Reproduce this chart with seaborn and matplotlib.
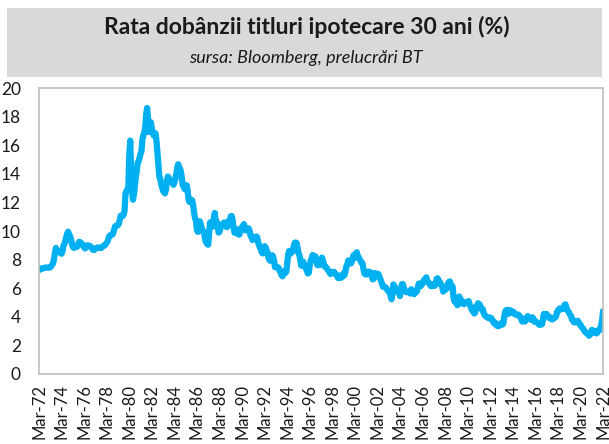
import pandas as pd
import seaborn as sns
import matplotlib.pyplot as plt
from matplotlib.patches import Rectangle

# --- Data: 30y mortgage rate (%), monthly, Mar-1972 .. Mar-2022 ---
rates_1970s = [
    7.29, 7.29, 7.37, 7.37, 7.40, 7.40, 7.43, 7.45, 7.44, 7.44,            # 1972 (Mar-Dec)
    7.44, 7.44, 7.46, 7.54, 7.65, 7.73, 8.05, 8.50, 8.82, 8.58, 8.58, 8.54,  # 1973
    8.54, 8.46, 8.41, 8.58, 8.97, 9.09, 9.28, 9.59, 9.81, 9.95, 9.79, 9.62,  # 1974
    9.43, 9.10, 8.89, 8.82, 8.91, 8.89, 8.87, 8.94, 9.16, 9.25, 9.21, 9.14,  # 1975
    9.07, 8.96, 8.86, 8.78, 8.84, 8.99, 9.00, 8.98, 8.95, 8.92, 8.82, 8.71,  # 1976
    8.67, 8.69, 8.76, 8.81, 8.85, 8.84, 8.82, 8.82, 8.80, 8.89, 8.94, 8.96,  # 1977
    9.00, 9.09, 9.16, 9.27, 9.51, 9.67, 9.70, 9.73, 9.75, 9.87, 10.12, 10.33,  # 1978
    10.37, 10.38, 10.41, 10.53, 10.81, 11.07, 11.07, 11.04, 11.14, 11.41, 12.62, 12.80,  # 1979
]
rates_1980s = [
    12.90, 13.04, 15.28, 16.32, 14.26, 12.71, 12.19, 12.56, 13.20, 13.79, 14.21, 14.79,
    14.90, 15.13, 15.40, 15.58, 16.40, 16.70, 16.83, 17.29, 18.16, 18.60, 17.83, 16.92,
    17.40, 17.60, 17.16, 16.89, 16.68, 16.70, 16.82, 16.27, 15.43, 14.61, 13.83, 13.62,
    13.25, 13.04, 12.80, 12.78, 12.63, 12.87, 13.42, 13.81, 13.73, 13.54, 13.44, 13.42,
    13.37, 13.23, 13.39, 13.65, 13.94, 14.42, 14.67, 14.47, 14.35, 14.13, 13.64, 13.18,
    13.08, 12.92, 13.17, 13.20, 12.91, 12.22, 12.03, 12.19, 12.19, 12.14, 11.78, 11.26,
    10.88, 10.71, 10.08, 9.94, 10.14, 10.68, 10.51, 10.20, 10.01, 9.98, 9.70, 9.32,
    9.20, 9.08, 9.04, 9.83, 10.60, 10.54, 10.28, 10.33, 10.89, 11.26, 10.65, 10.64,
    10.38, 9.89, 9.93, 10.20, 10.46, 10.46, 10.43, 10.60, 10.48, 10.30, 10.27, 10.61,
    10.73, 10.65, 11.03, 11.05, 10.77, 10.20, 9.88, 9.99, 10.13, 9.95, 9.77, 9.74,
]
rates_1990s = [
    9.90, 10.20, 10.27, 10.37, 10.48, 10.16, 10.04, 10.10, 10.18, 10.18, 10.01, 9.67,
    9.64, 9.37, 9.50, 9.49, 9.47, 9.62, 9.58, 9.24, 9.01, 8.86, 8.71, 8.50,
    8.43, 8.76, 8.94, 8.85, 8.67, 8.51, 8.13, 7.98, 7.92, 8.09, 8.31, 8.22,
    7.91, 7.47, 7.47, 7.46, 7.47, 7.42, 7.21, 7.11, 6.92, 6.83, 7.16, 7.17,
    7.06, 7.15, 7.68, 8.32, 8.60, 8.40, 8.61, 8.51, 8.64, 8.93, 9.17, 9.20,
    9.15, 8.83, 8.46, 8.32, 7.96, 7.57, 7.61, 7.86, 7.64, 7.48, 7.38, 7.20,
    7.03, 7.08, 7.62, 7.93, 8.07, 8.32, 8.25, 8.00, 8.23, 7.92, 7.62, 7.60,
    7.82, 7.65, 7.90, 8.14, 7.94, 7.69, 7.50, 7.48, 7.43, 7.29, 7.21, 7.10,
    6.99, 7.04, 7.13, 7.14, 7.14, 7.00, 6.95, 6.92, 6.72, 6.71, 6.87, 6.72,
    6.79, 6.81, 7.04, 6.92, 7.15, 7.55, 7.63, 7.94, 7.82, 7.85, 7.74, 7.91,
]
rates_2000s = [
    8.21, 8.33, 8.24, 8.15, 8.52, 8.29, 8.15, 8.03, 7.91, 7.80, 7.75, 7.38,
    7.03, 7.05, 6.95, 7.08, 7.15, 7.16, 7.13, 6.95, 6.82, 6.62, 6.66, 7.07,
    7.00, 6.89, 7.01, 6.99, 6.81, 6.65, 6.49, 6.29, 6.09, 6.11, 6.07, 6.05,
    5.92, 5.84, 5.75, 5.81, 5.48, 5.23, 5.63, 6.26, 6.15, 5.95, 5.93, 5.88,
    5.71, 5.64, 5.45, 5.83, 6.27, 6.29, 6.06, 5.87, 5.75, 5.72, 5.73, 5.75,
    5.71, 5.63, 5.93, 5.86, 5.72, 5.58, 5.70, 5.82, 5.77, 6.07, 6.33, 6.27,
    6.15, 6.25, 6.32, 6.51, 6.60, 6.68, 6.76, 6.52, 6.40, 6.36, 6.24, 6.14,
    6.22, 6.29, 6.16, 6.18, 6.26, 6.66, 6.70, 6.57, 6.38, 6.38, 6.21, 6.10,
    5.76, 5.92, 5.97, 5.92, 6.04, 6.32, 6.43, 6.48, 6.04, 6.20, 6.09, 5.33,
    5.06, 5.13, 5.00, 4.81, 4.86, 5.42, 5.22, 5.19, 5.06, 4.95, 4.88, 4.93,
]
rates_2010s = [
    5.03, 4.99, 4.97, 5.10, 4.89, 4.74, 4.56, 4.43, 4.35, 4.23, 4.30, 4.71,
    4.76, 4.95, 4.84, 4.84, 4.64, 4.51, 4.55, 4.27, 4.11, 4.07, 3.99, 3.96,
    3.92, 3.89, 3.95, 3.91, 3.80, 3.68, 3.55, 3.60, 3.50, 3.38, 3.35, 3.35,
    3.41, 3.53, 3.57, 3.45, 3.54, 4.07, 4.37, 4.46, 4.49, 4.19, 4.26, 4.46,
    4.43, 4.30, 4.34, 4.34, 4.19, 4.16, 4.13, 4.12, 4.16, 4.04, 4.00, 3.86,
    3.67, 3.71, 3.77, 3.67, 3.84, 3.98, 4.05, 3.91, 3.89, 3.80, 3.94, 3.96,
    3.87, 3.66, 3.69, 3.61, 3.60, 3.57, 3.44, 3.44, 3.46, 3.47, 3.77, 4.20,
    4.15, 4.17, 4.20, 4.05, 4.01, 3.90, 3.97, 3.88, 3.81, 3.90, 3.92, 3.95,
    4.03, 4.33, 4.44, 4.47, 4.59, 4.57, 4.53, 4.55, 4.63, 4.83, 4.87, 4.64,
    4.46, 4.37, 4.27, 4.14, 4.07, 3.80, 3.77, 3.62, 3.61, 3.69, 3.70, 3.72,
]
rates_2020s = [
    3.62, 3.47, 3.45, 3.31, 3.23, 3.16, 3.02, 2.94, 2.89, 2.83, 2.77, 2.68,
    2.74, 2.81, 3.08, 3.06, 2.96, 2.98, 2.87, 2.84, 2.90, 3.07, 3.07, 3.10,
    3.45, 3.76, 4.40,
]

rates = rates_1970s + rates_1980s + rates_1990s + rates_2000s + rates_2010s + rates_2020s
dates = pd.date_range("1972-03-01", periods=len(rates), freq="MS")
df = pd.DataFrame({"date": dates, "rate": rates})

TITLE = "Rata dobânzii titluri ipotecare 30 ani (%)"
SUBTITLE = "sursa: Bloomberg, prelucrări BT"

sns.set_style("white")
plt.rcParams["font.family"] = ["Lato", "DejaVu Sans"]

fig = plt.figure(figsize=(6.09, 4.44), dpi=100)
ax = fig.add_axes([39 / 609, 1 - 374 / 444, (603 - 39) / 609, (374 - 88) / 444])

# grey title band
fig.patches.append(Rectangle((7 / 609, 1 - 77 / 444), (602 - 7) / 609, (77 - 8) / 444,
                             transform=fig.transFigure, facecolor="#d9d9d9",
                             edgecolor="none", zorder=0))
fig.text(0.504, 1 - 27 / 444, TITLE, ha="center", va="center",
         fontsize=16.5, fontweight="bold", color="#1a1a1a")
fig.text(0.503, 1 - 58 / 444, SUBTITLE, ha="center", va="center",
         fontsize=13, style="italic", color="#1a1a1a")

sns.lineplot(data=df, x="date", y="rate", ax=ax, color="#00b0f0", linewidth=4.5)

ax.set_ylim(0, 20)
ax.set_yticks(range(0, 21, 2))
ax.set_xlim(dates[0], dates[-1])
xt = pd.date_range("1972-03-01", "2022-03-01", freq="24MS")
ax.set_xticks(xt)
ax.set_xticklabels([d.strftime("%b-%y") for d in xt], rotation=90)
ax.set_xlabel("")
ax.set_ylabel("")

for s in ax.spines.values():
    s.set_color("#bfbfbf")
    s.set_linewidth(1.2)
ax.tick_params(axis="x", length=4, color="#bfbfbf", labelsize=12, pad=3, labelcolor="#1a1a1a")
ax.tick_params(axis="y", length=0, labelsize=12.5, pad=13, labelcolor="#1a1a1a")

plt.savefig("out.png", dpi=100)
